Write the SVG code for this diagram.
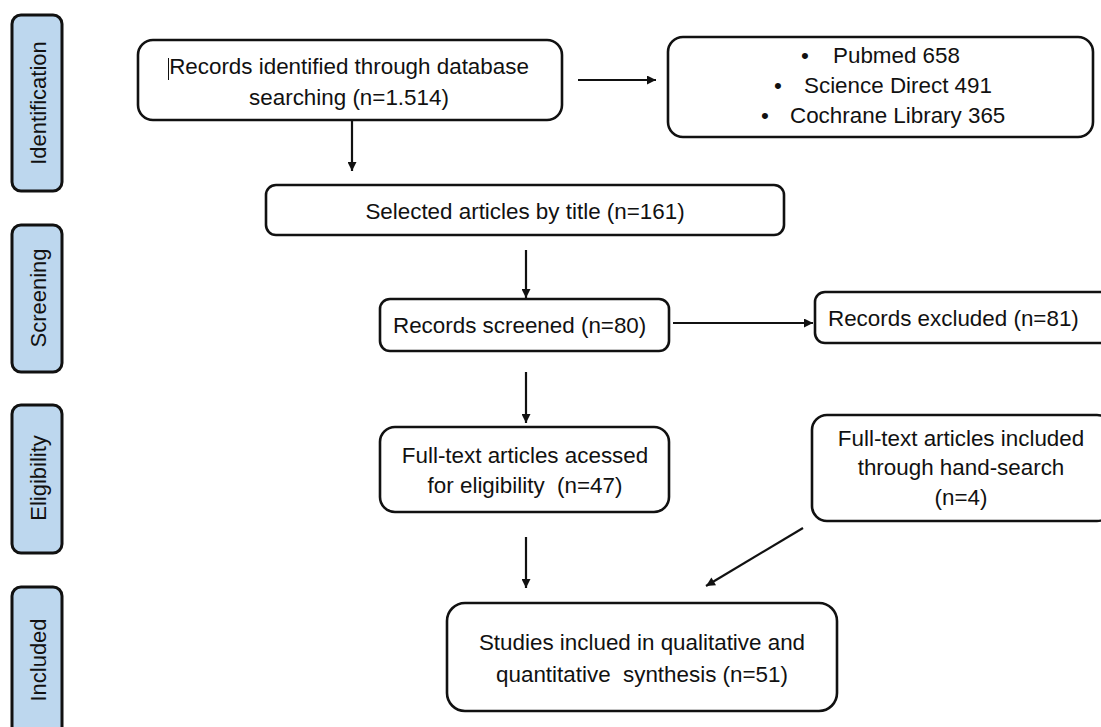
<svg xmlns="http://www.w3.org/2000/svg" width="1101" height="727" viewBox="0 0 1101 727">
<style>
.stage rect{fill:#BDD7EE;stroke:#111;stroke-width:3}
.node rect{fill:#fff;stroke:#111;stroke-width:2.6}
text{font-family:"Liberation Sans",Arial,sans-serif;font-size:22.4px;fill:#111;white-space:pre}
.stage text{font-size:22px}
.c{text-anchor:middle}
.conn line{stroke:#111;stroke-width:2.2}
</style>
<defs>
<marker id="ah" viewBox="0 0 10 10" refX="10" refY="5" markerWidth="10" markerHeight="9" markerUnits="userSpaceOnUse" orient="auto">
<path d="M0,0 L10,5 L0,10 z" fill="#111"/>
</marker>
</defs>
<rect width="1101" height="727" fill="#fff"/>

<g id="stage-identification" class="stage">
<rect x="12" y="15" width="50" height="176" rx="9"/>
<text class="c" x="46" y="103" transform="rotate(-90 46 103)">Identification</text>
</g>
<g id="stage-screening" class="stage">
<rect x="12" y="225" width="50" height="147" rx="9"/>
<text class="c" x="46" y="298" transform="rotate(-90 46 298)">Screening</text>
</g>
<g id="stage-eligibility" class="stage">
<rect x="12" y="405" width="50" height="148" rx="9"/>
<text class="c" x="46" y="478" transform="rotate(-90 46 478)">Eligibility</text>
</g>
<g id="stage-included" class="stage">
<rect x="12" y="587" width="50" height="150" rx="9"/>
<text class="c" x="46" y="660" transform="rotate(-90 46 660)">Included</text>
</g>

<g id="records-identified" class="node">
<rect x="138" y="40" width="424" height="80" rx="15"/>
<line x1="168.5" y1="58" x2="168.5" y2="80" stroke="#111" stroke-width="1"/>
<text class="c" x="349" y="74">Records identified through database</text>
<text class="c" x="349" y="105">searching (n=1.514)</text>
</g>

<g id="databases" class="node">
<rect x="668" y="37" width="425" height="100" rx="15"/>
<text x="801" y="63">•</text><text x="833" y="63">Pubmed 658</text>
<text x="774" y="93">•</text><text x="804" y="93">Science Direct 491</text>
<text x="761" y="123">•</text><text x="790" y="123">Cochrane Library 365</text>
</g>

<g id="selected-title" class="node">
<rect x="266" y="185" width="518" height="50" rx="10"/>
<text class="c" x="525" y="219">Selected articles by title (n=161)</text>
</g>

<g id="records-screened" class="node">
<rect x="380" y="299" width="289" height="52" rx="10"/>
<text x="393" y="333">Records screened (n=80)</text>
</g>

<g id="records-excluded" class="node">
<rect x="815" y="292" width="300" height="51" rx="10"/>
<text x="828" y="326">Records excluded (n=81)</text>
</g>

<g id="fulltext-assessed" class="node">
<rect x="380" y="427" width="289" height="85" rx="15"/>
<text class="c" x="525" y="463">Full-text articles acessed</text>
<text class="c" x="525" y="493">for eligibility  (n=47)</text>
</g>

<g id="hand-search" class="node">
<rect x="812" y="415" width="300" height="106" rx="15"/>
<text class="c" x="961" y="446">Full-text articles included</text>
<text class="c" x="961" y="475">through hand-search</text>
<text class="c" x="961" y="505">(n=4)</text>
</g>

<g id="studies-included" class="node">
<rect x="447" y="603" width="390" height="108" rx="18"/>
<text class="c" x="642" y="650">Studies inclued in qualitative and</text>
<text class="c" x="642" y="682">quantitative  synthesis (n=51)</text>
</g>

<g id="connectors" class="conn">
<line x1="352" y1="120" x2="352" y2="171" marker-end="url(#ah)"/>
<line x1="578" y1="80" x2="656" y2="80" marker-end="url(#ah)"/>
<line x1="526" y1="250" x2="526" y2="298" marker-end="url(#ah)"/>
<line x1="673" y1="323" x2="813" y2="323" marker-end="url(#ah)"/>
<line x1="526" y1="372" x2="526" y2="423" marker-end="url(#ah)"/>
<line x1="526" y1="537" x2="526" y2="588" marker-end="url(#ah)"/>
<line x1="803" y1="528" x2="706" y2="586" marker-end="url(#ah)"/>
</g>
</svg>
